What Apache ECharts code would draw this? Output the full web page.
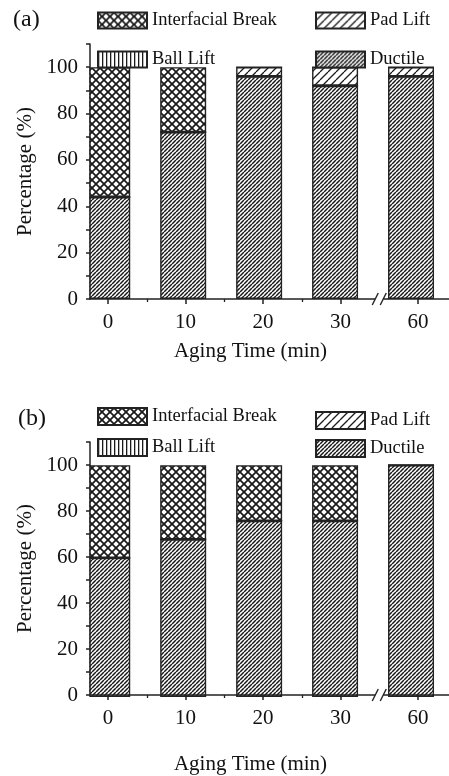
<!DOCTYPE html>
<html><head><meta charset="utf-8">
<script src="https://cdn.jsdelivr.net/npm/echarts@6/dist/echarts.min.js"></script>
<style>html,body{margin:0;padding:0;background:#fff}#c{width:449px;height:776px}</style>
</head><body><div id="c"></div>
<script>
// ---- data ----
const categories = ['0', '10', '20', '30', '60'];
const seriesNames = ['Interfacial Break', 'Ball Lift', 'Pad Lift', 'Ductile'];
// panel (a)
const a_ductile   = [44, 72, 96, 92, 96];
const a_ballLift  = [0, 0, 0, 0, 0];
const a_padLift   = [0, 0, 4, 8, 4];
const a_interface = [56, 28, 0, 0, 0];
// panel (b)
const b_ductile   = [60, 68, 76, 76, 100];
const b_ballLift  = [0, 0, 0, 0, 0];
const b_padLift   = [0, 0, 0, 0, 0];
const b_interface = [40, 32, 24, 24, 0];
const yTicks = [0, 20, 40, 60, 80, 100];

// ---- patterns ----
function tile(w, h, draw) {
  const c = document.createElement('canvas');
  c.width = w; c.height = h;
  const g = c.getContext('2d');
  g.fillStyle = '#fff'; g.fillRect(0, 0, w, h);
  draw(g, w, h);
  return { image: c, repeat: 'repeat' };
}
function diag(g, p, lw, col, dir) {
  g.strokeStyle = col; g.lineWidth = lw; g.beginPath();
  for (let k = -1; k <= 1; k++) {
    if (dir > 0) { g.moveTo(k * p, p); g.lineTo(k * p + p, 0); }
    else { g.moveTo(k * p, 0); g.lineTo(k * p + p, p); }
  }
  g.stroke();
}
const patterns = {
  'Interfacial Break': tile(8, 8, (g, w) => { diag(g, w, 1.7, '#1a1a1a', 1); diag(g, w, 1.7, '#1a1a1a', -1); }),
  'Ball Lift': tile(4, 4, (g, w, h) => { g.fillStyle = '#1a1a1a'; g.fillRect(0, 0, 1.3, h); }),
  'Pad Lift': tile(8, 8, (g, w) => diag(g, w, 1.3, '#1a1a1a', 1)),
  'Ductile': tile(4, 4, (g, w) => diag(g, w, 1.5, '#1a1a1a', 1))
};

const FONT = 'Liberation Serif';
const txt = { fontFamily: FONT, color: '#111' };
// layout
const AXIS_LEFT = 90, FIRST_CENTER = 108, STEP = 77.5, WIDTH = 449;
const panelTop = [44, 442], panelH = 255;
const xMin = -(FIRST_CENTER - AXIS_LEFT) / STEP;
const xMax = xMin + (WIDTH - AXIS_LEFT) / STEP;

// grids: 2*p = visible axes frame, 2*p+1 = bar grid (category bands)
const grids = [];
panelTop.forEach(t => {
  grids.push({ left: AXIS_LEFT, right: 0, top: t, height: panelH });
  grids.push({ left: FIRST_CENTER - STEP / 2, width: STEP * categories.length, top: t, height: panelH });
});

const xAxes = [], yAxes = [];
panelTop.forEach((t, p) => {
  const gv = 2 * p, gb = 2 * p + 1;
  xAxes.push({
    type: 'value', gridIndex: gv, min: xMin, max: xMax, z: 10,
    axisLine: { show: true, onZero: false, lineStyle: { color: '#222', width: 1.5 } },
    axisTick: { show: true, customValues: categories.map((c, i) => i), length: 5, lineStyle: { color: '#222', width: 1.5 } },
    axisLabel: { customValues: categories.map((c, i) => i), formatter: v => categories[Math.round(v)], margin: 13, fontSize: 21, ...txt },
    splitLine: { show: false },
    name: 'Aging Time (min)', nameLocation: 'middle', nameGap: p === 0 ? 42 : 59,
    nameTextStyle: { fontSize: 21, ...txt, padding: [0, 38, 0, 0] }
  });
  xAxes.push({
    type: 'value', gridIndex: gv, min: xMin, max: xMax, position: 'bottom', z: 10,
    axisLine: { show: false, onZero: false },
    axisTick: { show: true, customValues: [0.5, 1.5, 2.5], length: 3, lineStyle: { color: '#222', width: 1.3 } },
    axisLabel: { show: false }, splitLine: { show: false }
  });
  xAxes.push({ type: 'category', gridIndex: gb, data: categories, show: false });
  yAxes.push({
    type: 'value', gridIndex: gv, min: 0, max: 110, interval: 10, z: 10,
    axisLine: { show: true, onZero: false, lineStyle: { color: '#222', width: 1.5 } },
    axisTick: { show: true, length: 4, lineStyle: { color: '#222', width: 1.5 } },
    axisLabel: { customValues: yTicks, margin: 12, fontSize: 21, ...txt },
    splitLine: { show: false },
    name: 'Percentage (%)', nameLocation: 'middle', nameGap: 50,
    nameTextStyle: { fontSize: 21, ...txt }
  });
  yAxes.push({ type: 'value', gridIndex: gb, min: 0, max: 110, show: false, splitLine: { show: false } });
});

function makeSeries(p, vals, stack) {
  const order = ['Ductile', 'Ball Lift', 'Pad Lift', 'Interfacial Break'];
  return order.map(n => ({
    name: n, type: 'bar', stack, xAxisIndex: 3 * p + 2, yAxisIndex: 2 * p + 1,
    barWidth: 46, z: 2,
    itemStyle: { color: patterns[n], borderColor: '#222', borderWidth: 1.4 },
    data: vals[n]
  }));
}

function legends(top1, gap1, top2, gap2, ih) {
  const base = { orient: 'vertical', itemWidth: 49, itemHeight: ih, itemGap: 0, icon: 'rect',
    textStyle: { fontSize: 18.5, lineHeight: ih, ...txt }, selectedMode: false, padding: 0 };
  return [
    { ...base, left: 97, top: top1, itemGap: gap1, data: ['Interfacial Break', 'Ball Lift'] },
    { ...base, left: 315, top: top2, itemGap: gap2, data: ['Pad Lift', 'Ductile'] }
  ];
}

const chart = echarts.init(document.getElementById('c'), null, { renderer: 'canvas' });
const graphics = [
  { type: 'text', left: 13, top: 8, style: { text: '(a)', fontSize: 24, fontFamily: FONT, fill: '#111' } },
  { type: 'text', left: 18, top: 407, style: { text: '(b)', fontSize: 24, fontFamily: FONT, fill: '#111' } }
];
panelTop.forEach(t => graphics.push({
  type: 'rect', z: 5, shape: { x: AXIS_LEFT - 12, y: t, width: 11.3, height: panelH + 1 }, style: { fill: '#fff' }
}));
const option = {
  animation: false,
  backgroundColor: '#fff',
  grid: grids,
  legend: [...legends(11, 20, 11, 20, 16), ...legends(407, 12, 411, 9, 17)],
  xAxis: xAxes,
  yAxis: yAxes,
  series: [
    ...makeSeries(0, { 'Ductile': a_ductile, 'Ball Lift': a_ballLift, 'Pad Lift': a_padLift, 'Interfacial Break': a_interface }, 'a'),
    ...makeSeries(1, { 'Ductile': b_ductile, 'Ball Lift': b_ballLift, 'Pad Lift': b_padLift, 'Interfacial Break': b_interface }, 'b')
  ],
  graphic: graphics
};
chart.setOption(option);

const breaks = [];
[0, 1].forEach(p => {
  const pt = chart.convertToPixel({ xAxisIndex: 3 * p, yAxisIndex: 2 * p }, [3.5, 0]);
  breaks.push({ type: 'rect', z: 20, shape: { x: pt[0] - 4, y: pt[1] - 3, width: 8, height: 6 }, style: { fill: '#fff' } });
  [-4, 4].forEach(dx => breaks.push({
    type: 'line', z: 21, shape: { x1: pt[0] + dx - 3, y1: pt[1] + 6, x2: pt[0] + dx + 3, y2: pt[1] - 6 },
    style: { stroke: '#222', lineWidth: 1.4 }
  }));
});
chart.setOption({ graphic: [...graphics, ...breaks] });
</script></body></html>
